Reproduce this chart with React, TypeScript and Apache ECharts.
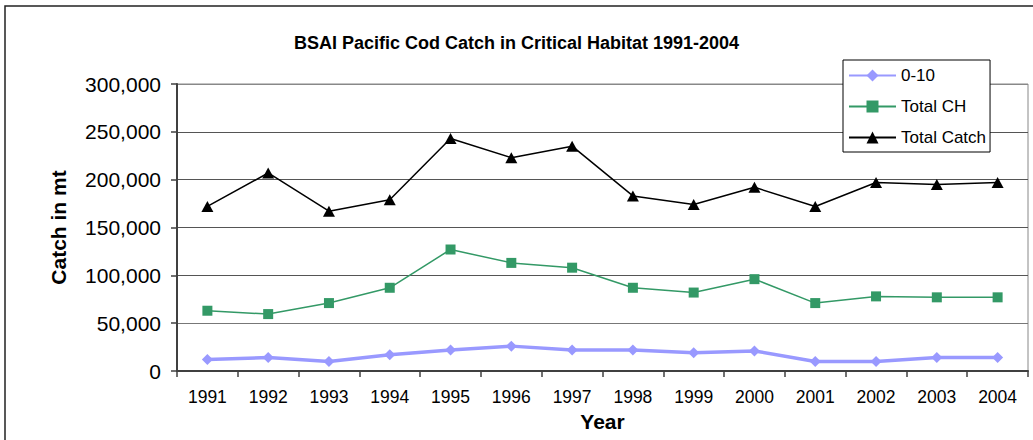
import React, { useEffect, useRef } from "react";
import * as echarts from "echarts";

const years = ["1991","1992","1993","1994","1995","1996","1997","1998","1999","2000","2001","2002","2003","2004"];
const zeroToTen = [12000,14000,10000,17000,22000,26000,22000,22000,19000,21000,10000,10000,14000,14000];
const totalCH = [63000,59500,71000,87000,127000,113000,108000,87000,82000,96000,71000,78000,77000,77000];
const totalCatch = [172000,207000,167000,179000,243000,223000,235000,183000,174000,192000,172000,197000,195000,197000];
const titleText = "BSAI Pacific Cod Catch in Critical Habitat 1991-2004";
const yTitle = "Catch in mt";
const xTitle = "Year";

const FONT = "Arial, 'Liberation Sans', sans-serif";

export default function App() {
  const ref = useRef<HTMLDivElement>(null);
  useEffect(() => {
    if (!ref.current) return;
    const chart = echarts.init(ref.current, null, { renderer: "svg" });
    chart.setOption({
      animation: false,
      backgroundColor: "#fff",
      textStyle: { fontFamily: FONT },
      title: {
        text: titleText,
        left: "center",
        top: 29,
        textStyle: { fontSize: 18, fontWeight: "bold", color: "#000", fontFamily: FONT },
      },
      graphic: [
        {
          type: "rect",
          shape: { x: 5, y: 6, width: 1100, height: 500 },
          style: { fill: "none", stroke: "#222", lineWidth: 1.5 },
          silent: true,
        },
      ],
      legend: {
        orient: "vertical",
        left: 843,
        top: 60,
        padding: [7, 4, 6, 5],
        itemWidth: 47,
        itemHeight: 15,
        itemGap: 14,
        backgroundColor: "#fff",
        borderColor: "#000",
        borderWidth: 1,
        borderRadius: 0,
        z: 10,
        textStyle: { fontSize: 17, color: "#000", fontFamily: FONT, lineHeight: 17 },
        data: ["0-10", "Total CH", "Total Catch"],
      },
      grid: {
        left: 177,
        right: 5,
        top: 84,
        bottom: 69,
        show: true,
        borderColor: "#888",
        borderWidth: 1,
        backgroundColor: "transparent",
      },
      xAxis: {
        type: "category",
        data: years,
        boundaryGap: true,
        name: xTitle,
        nameLocation: "middle",
        nameGap: 40,
        nameTextStyle: { fontSize: 21, fontWeight: "bold", color: "#000", fontFamily: FONT },
        axisLine: { lineStyle: { color: "#404040", width: 2 } },
        axisTick: { show: true, interval: 0, length: 6, lineStyle: { color: "#404040", width: 1.5 } },
        axisLabel: { fontSize: 17.5, color: "#000", margin: 17, interval: 0, fontFamily: FONT },
        splitLine: { show: false },
      },
      yAxis: {
        type: "value",
        min: 0,
        max: 300000,
        interval: 50000,
        name: yTitle,
        nameLocation: "middle",
        nameGap: 108,
        nameRotate: 90,
        nameTextStyle: { fontSize: 21, fontWeight: "bold", color: "#000", fontFamily: FONT },
        axisLine: { show: true, lineStyle: { color: "#404040", width: 2 } },
        axisTick: { show: true, length: 6, lineStyle: { color: "#404040", width: 1.5 } },
        axisLabel: {
          fontSize: 21,
          color: "#000",
          margin: 16,
          fontFamily: FONT,
          formatter: (v: number) => v.toLocaleString("en-US"),
        },
        splitLine: {
          show: true,
          lineStyle: { color: ["#555", "#777", "#555", "#555", "#555", "#555", "#888"], width: 1 },
        },
      },
      series: [
        {
          name: "0-10",
          type: "line",
          data: zeroToTen,
          symbol: "diamond",
          symbolSize: 11,
          lineStyle: { color: "#9999FF", width: 3.5 },
          itemStyle: { color: "#9999FF" },
          z: 3,
        },
        {
          name: "Total CH",
          type: "line",
          data: totalCH,
          symbol: "rect",
          symbolSize: 10,
          lineStyle: { color: "#339966", width: 1.5 },
          itemStyle: { color: "#339966" },
          z: 3,
        },
        {
          name: "Total Catch",
          type: "line",
          data: totalCatch,
          symbol: "triangle",
          symbolSize: [12, 11],
          lineStyle: { color: "#000", width: 1.5 },
          itemStyle: { color: "#000" },
          z: 3,
        },
      ],
    });
    return () => chart.dispose();
  }, []);
  return (
    <div
      ref={ref}
      style={{ position: "absolute", left: 0, top: 0, width: 1033, height: 440 }}
    />
  );
}
